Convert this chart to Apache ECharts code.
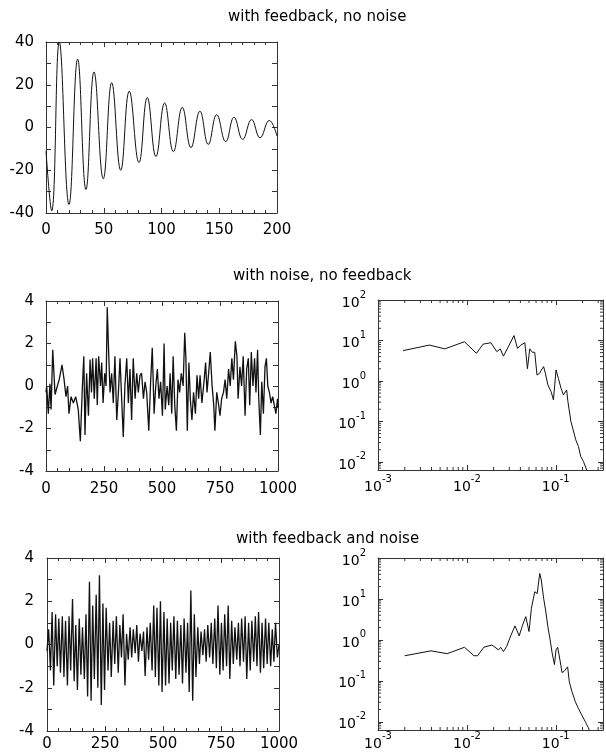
<!DOCTYPE html>
<html><head><meta charset="utf-8">
<script src="https://cdn.jsdelivr.net/npm/echarts@6/dist/echarts.min.js"></script>
<style>html,body{margin:0;padding:0;background:#fff}#c{width:606px;height:755px}</style>
</head><body><div id="c"></div>
<script>
// ---- data ----
const titles = ['with feedback, no noise', 'with noise, no feedback', 'with feedback and noise'];

// top: feedback, no noise (extremes of the damped oscillation)
const topT = [0,4.9,11.5,19.9,27.4,34.6,41.6,49.6,56.9,64.7,72.1,80.5,87.7,95.2,102.7,110.3,118,125.5,133.3,140.5,147.8,155.6,162.8,170.3,178,185.3,193.3,200];
const topV = [-11,-39,40,-36,32,-29,26,-24,21,-20,17,-16.4,14,-13.6,11.5,-11.3,9.4,-9.4,7.6,-7.9,6,-6.6,4.8,-5.6,3.7,-4.8,3.3,-4];

// middle left: noise, no feedback
const noT = [0,3,10,17,22,29,39,49,57,69,78,86,93,99,108,118,128,139,148,157,163,168,175,183,190,196,201,208,216,221,227,235,240,246,253,259,264,270,276,283,290,297,305,312,319,325,333,340,348,355,362,369,376,384,391,398,405,412,420,427,434,443,451,458,466,473,480,487,494,502,509,514,522,529,535,542,548,555,562,569,576,583,591,598,603,609,616,622,629,636,644,651,658,664,672,681,688,694,701,708,716,723,728,736,743,750,757,765,772,779,787,794,801,808,816,823,828,836,843,850,858,865,872,878,885,892,899,905,912,917,924,930,937,944,950,956,963,970,977,984,991,998,1000];
const noV = [-0.3,0,-1.3,0.1,-1.1,1.7,-0.4,0,0.3,1.0,0.3,-0.5,0,-1.3,-0.5,-0.8,-0.5,-1.1,-2.6,0,1.4,-2.3,0.6,-1.4,1.25,-0.3,1.3,-0.6,1.3,-0.9,1.4,0,1.1,-0.8,0.6,0,3.7,1.6,-0.3,0.6,-0.8,1.4,-1.6,-0.3,1.3,-0.3,-2.4,0,1.3,-0.8,0.8,-1.6,1.3,-0.6,0.6,-0.3,0.5,0.6,-0.6,0.2,-0.3,-2.1,0.2,1.8,-1.3,0,0.8,-0.6,0.2,-1.4,2.0,-1.1,0,-0.9,0.6,-1.3,1.4,-0.9,-2.1,0.3,-0.3,0.6,0,2.5,1.3,-2.1,1.1,-0.6,-1.6,-0.3,-1.3,0.5,-0.6,0.5,-0.8,0.2,1.1,-0.3,0.6,1.6,0,-0.9,-2.1,-0.3,-0.8,-1.4,-0.6,-0.3,0.3,-0.6,0.8,0,1.3,0.3,2.1,1.4,-0.6,0.9,0,1.4,-1.4,0.8,1.3,-0.9,1.6,0,1.3,-0.3,1.7,-0.6,-2.3,0.2,-1.3,0.9,1.3,0,-0.3,-0.8,-0.5,-0.9,-1.3,-0.6,-1.0];

// bottom left: feedback and noise
const fbT = [0,7,15,22,29,37,44,51,58,66,73,80,88,95,102,110,117,124,131,139,146,153,161,168,175,183,190,197,204,212,219,226,234,241,248,255,263,270,277,285,292,299,307,314,321,328,336,343,350,358,365,372,380,387,394,401,409,416,423,431,438,445,453,460,467,474,482,489,496,504,511,518,526,533,540,547,555,562,569,577,584,591,599,606,613,620,628,635,642,650,657,664,672,679,686,693,701,708,715,723,730,737,745,752,759,766,774,781,788,796,803,810,818,825,832,839,847,854,861,869,876,883,891,898,905,912,920,927,934,942,949,956,964,971,978,985,993,1000];
const fbV = [-0.3,0.7,-1.2,1.5,-1.9,1.4,-1.0,1.2,-1.3,1.3,-1.5,1.1,-1.9,1.3,-1.2,2.1,-1.7,0.9,-2.1,1.2,-1.4,0.8,-1.6,1.4,-2.4,2.9,-2.6,1.8,-1.6,2.3,-2.0,3.2,-2.8,1.9,-2.1,1.7,-1.2,1.0,-1.5,1.1,-0.9,1.3,-1.3,0.9,-0.6,1.4,-1.9,0.5,-0.7,0.8,-0.6,0.7,-0.4,0.9,-0.8,0.5,-0.3,0.6,-1.45,0.8,-0.7,1.0,-1.2,1.8,-1.5,1.7,-1.9,2.0,-2.2,1.5,-1.9,1.2,-1.8,1.0,-1.2,1.3,-1.6,1.1,-1.4,0.9,-1.8,1.2,-1.3,1.0,-2.2,2.5,-2.6,1.4,-1.5,0.8,-0.9,0.6,-0.5,0.7,-0.8,0.9,-0.6,1.0,-0.9,1.2,-1.1,1.8,-1.4,1.0,-1.2,1.4,-1.0,1.8,-1.6,1.1,-0.9,0.8,-0.7,1.0,-1.0,1.2,-0.8,1.3,-1.6,1.0,-1.2,1.1,-0.8,1.3,-1.0,1.5,-1.3,1.0,-1.1,1.2,-0.9,1.0,-1.0,0.7,-0.8,1.0,-0.6,0.0];

// spectra
const fNo = [0.00191,0.00378,0.00565,0.0094,0.0128,0.0152,0.0186,0.0217,0.0237,0.0258,0.0339,0.0371,0.0405,0.0449,0.048,0.051,0.0546,0.058,0.0615,0.0659,0.069,0.073,0.0764,0.0815,0.0887,0.0942,0.1007,0.107,0.1146,0.122,0.128,0.1325,0.137,0.148,0.155,0.168,0.18,0.191,0.205,0.223];
const pNo = [5.6,7.7,6.2,9.3,4.8,8.1,8.8,5.3,6.2,4.1,13.2,6.4,7.7,8.8,2.0,6.2,5.1,5.1,1.4,1.55,1.87,2.26,1.55,0.8,0.54,0.34,1.87,1.16,0.66,0.45,0.48,0.6,0.31,0.1,0.068,0.035,0.024,0.0135,0.0102,0.0063];
const fFb = [0.0020,0.00395,0.0060,0.0094,0.0120,0.0132,0.0155,0.0191,0.0227,0.024,0.0258,0.028,0.0311,0.0348,0.0388,0.0423,0.046,0.050,0.0532,0.058,0.0604,0.0618,0.066,0.0687,0.073,0.0768,0.0815,0.0865,0.091,0.0967,0.1007,0.105,0.1116,0.1175,0.124,0.130,0.136,0.142,0.152,0.166,0.180,0.196,0.214,0.233,0.238];
const pFb = [0.41,0.54,0.46,0.66,0.41,0.41,0.66,0.75,0.57,0.66,0.52,0.69,1.25,2.2,1.25,2.3,3.7,1.6,5.9,15,16.6,13.5,42,29,10.4,5.4,2.1,1.0,0.48,0.25,0.57,0.66,0.32,0.16,0.17,0.155,0.22,0.095,0.055,0.031,0.021,0.0147,0.0102,0.0071,0.0063];

// axis ranges
const topRangeY = [-40, 40], topRangeX = [0, 200];
const tsRangeY = [-4, 4], tsRangeX = [0, 1000];
const specRangeX = [0.001, 0.34], specRangeY = [0.0063, 100];

// ---- chart ----
const FONT = 'DejaVu Sans';
const INK = '#111';
const FRAME = '#333';
const zip = (a, b) => a.map((v, i) => [v, b[i]]);

const grids = [
  {left: 46, top: 42, width: 231, height: 171},
  {left: 46, top: 301, width: 232, height: 170},
  {left: 378, top: 300, width: 228, height: 170},
  {left: 47, top: 558, width: 232, height: 173},
  {left: 378, top: 558, width: 228, height: 172}
];

function linAxis(g, pos, range, interval, labelEvery, showLabel, margin, minorSplit) {
  return {
    type: 'value', gridIndex: g, position: pos, min: range[0], max: range[1], interval: interval,
    axisLine: {show: true, onZero: false, lineStyle: {color: FRAME, width: 1}},
    axisTick: {show: true, inside: true, length: 5, lineStyle: {color: FRAME, width: 1}},
    minorTick: {show: !!minorSplit, splitNumber: minorSplit || 5, length: 3, lineStyle: {color: FRAME, width: 1}},
    axisLabel: {show: showLabel, margin: margin, color: '#000', fontFamily: FONT, fontSize: 15,
      formatter: v => (Math.abs(v / labelEvery - Math.round(v / labelEvery)) < 1e-9 ? String(v) : '')},
    splitLine: {show: false}, minorSplitLine: {show: false}
  };
}
function logAxis(g, pos, range, showLabel, margin) {
  return {
    type: 'log', logBase: 10, gridIndex: g, position: pos, min: range[0], max: range[1],
    axisLine: {show: true, onZero: false, lineStyle: {color: FRAME, width: 1}},
    axisTick: {show: true, inside: true, length: 5, lineStyle: {color: FRAME, width: 1}},
    minorTick: {show: false},
    axisLabel: {show: showLabel, margin: margin, color: '#000', fontFamily: FONT, fontSize: 14,
      formatter: v => { const l = Math.log10(v), r = Math.round(l); if (Math.abs(l - r) > 1e-6) return ''; return '{b|10}{e|' + r + '}'; },
      rich: {
        b: {fontSize: 14, fontFamily: FONT, color: '#000', lineHeight: 20, verticalAlign: 'bottom'},
        e: {fontSize: 10, fontFamily: FONT, color: '#000', lineHeight: 10, verticalAlign: 'top'}
      }},
    splitLine: {show: false}
  };
}

const xAxis = [
  linAxis(0, 'bottom', topRangeX, 50, 50, true, 10, 5), linAxis(0, 'top', topRangeX, 50, 50, false, 0, 5),
  linAxis(1, 'bottom', tsRangeX, 250, 250, true, 11, 5), linAxis(1, 'top', tsRangeX, 250, 250, false, 0, 5),
  logAxis(2, 'bottom', specRangeX, true, 4), logAxis(2, 'top', specRangeX, false, 0),
  linAxis(3, 'bottom', tsRangeX, 250, 250, true, 6, 5), linAxis(3, 'top', tsRangeX, 250, 250, false, 0, 5),
  logAxis(4, 'bottom', specRangeX, true, 1), logAxis(4, 'top', specRangeX, false, 0)
];
const yAxis = [
  linAxis(0, 'left', topRangeY, 10, 20, true, 12, 0), linAxis(0, 'right', topRangeY, 10, 20, false, 0, 0),
  linAxis(1, 'left', tsRangeY, 1, 2, true, 12, 0), linAxis(1, 'right', tsRangeY, 1, 2, false, 0, 0),
  logAxis(2, 'left', specRangeY, true, 12), logAxis(2, 'right', specRangeY, false, 0),
  linAxis(3, 'left', tsRangeY, 1, 2, true, 13, 0), linAxis(3, 'right', tsRangeY, 1, 2, false, 0, 0),
  logAxis(4, 'left', specRangeY, true, 12), logAxis(4, 'right', specRangeY, false, 0)
];

function lineSeries(g, data, smooth, width) {
  return {type: 'line', xAxisIndex: 2 * g, yAxisIndex: 2 * g, data: data, symbol: 'none', showSymbol: false,
    smooth: smooth || false, clip: true, lineStyle: {color: INK, width: width || 1}, silent: true, z: 2};
}

const minorMult = [2, 3, 4, 5, 6, 7, 8, 9];
function logMinorVals(lo, hi) {
  const out = [];
  for (let e = Math.floor(Math.log10(lo)); e <= Math.ceil(Math.log10(hi)); e++)
    for (const m of minorMult) { const v = m * Math.pow(10, e); if (v > lo * 1.0001 && v < hi * 0.9999) out.push(v); }
  return out;
}
function minorTicks(g, xr, yr) {
  const L = 3;
  const mk = (x1, y1, x2, y2) => ({type: 'line', shape: {x1: x1, y1: y1, x2: x2, y2: y2}, style: {stroke: FRAME, lineWidth: 1}});
  return [
    {type: 'custom', xAxisIndex: 2 * g, yAxisIndex: 2 * g, silent: true, clip: false, z: 3,
      data: logMinorVals(yr[0], yr[1]).map(v => [xr[0], v]),
      renderItem: (p, api) => { const v = api.value(1); const a = api.coord([xr[0], v]); const b = api.coord([xr[1], v]);
        return {type: 'group', children: [mk(a[0], a[1], a[0] + L, a[1]), mk(b[0], b[1], b[0] - L, b[1])]}; }},
    {type: 'custom', xAxisIndex: 2 * g, yAxisIndex: 2 * g, silent: true, clip: false, z: 3,
      data: logMinorVals(xr[0], xr[1]).map(v => [v, yr[0]]),
      renderItem: (p, api) => { const v = api.value(0); const a = api.coord([v, yr[0]]); const b = api.coord([v, yr[1]]);
        return {type: 'group', children: [mk(a[0], a[1], a[0], a[1] - L), mk(b[0], b[1], b[0], b[1] + L)]}; }}
  ];
}

const titleStyle = {fontFamily: FONT, fontSize: 15, fontWeight: 'normal', color: '#000'};
const option = {
  animation: false,
  backgroundColor: '#fff',
  title: [
    {text: titles[0], left: 228, top: 10, padding: 0, textStyle: titleStyle},
    {text: titles[1], left: 233, top: 269, padding: 0, textStyle: titleStyle},
    {text: titles[2], left: 236, top: 532, padding: 0, textStyle: titleStyle}
  ],
  grid: grids,
  xAxis: xAxis,
  yAxis: yAxis,
  series: [
    lineSeries(0, zip(topT, topV), 0.45, 1),
    lineSeries(1, zip(noT, noV), false, 1.3),
    lineSeries(2, zip(fNo, pNo), false, 1),
    lineSeries(3, zip(fbT, fbV), false, 1.3),
    lineSeries(4, zip(fFb, pFb), false, 1)
  ].concat(minorTicks(2, specRangeX, specRangeY), minorTicks(4, specRangeX, specRangeY))
};

const chart = echarts.init(document.getElementById('c'), null, {renderer: 'canvas', width: 606, height: 755});
chart.setOption(option);
</script>
</body></html>
